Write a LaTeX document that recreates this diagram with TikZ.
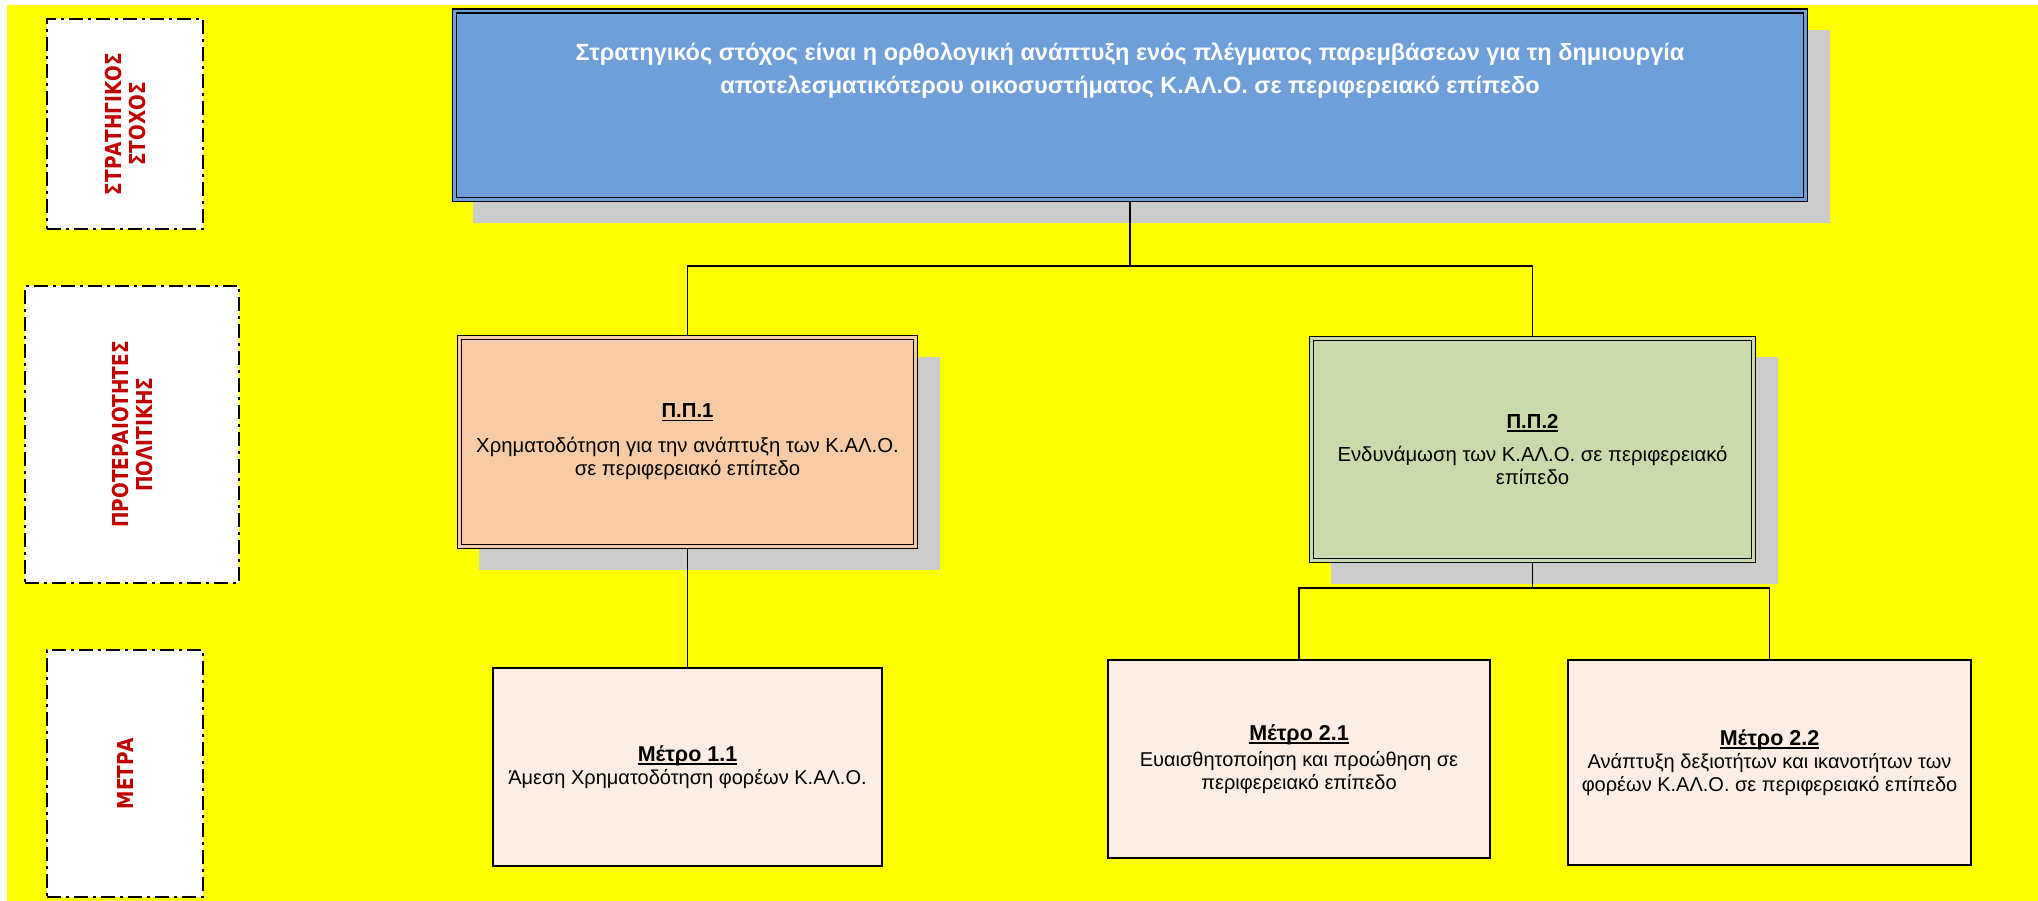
\documentclass[tikz,border=0pt]{standalone}
\usepackage{fontspec}
\setmainfont{Liberation Sans}
\newfontfamily\sidefont[FakeStretch=0.84]{DejaVu Sans}
\usetikzlibrary{calc}
\pgfdeclarelayer{bg}
\pgfdeclarelayer{mid}
\pgfsetlayers{bg,mid,main}
\definecolor{yellowbg}{HTML}{FFFF00}
\definecolor{bluefill}{HTML}{6F9FD9}
\definecolor{ppone}{HTML}{F8CBA7}
\definecolor{pptwo}{HTML}{CBDAAB}
\definecolor{metrofill}{HTML}{FCEEE4}
\definecolor{shadowgray}{HTML}{CCCCCC}
\definecolor{labelred}{HTML}{C00000}
\newcommand\ulx[1]{\setbox0=\hbox{#1}\rlap{\rule[-3.5pt]{\wd0}{1.6pt}}\box0}
\newcommand\mtitle[1]{{\fontsize{21.5}{23}\selectfont\ulx{\textbf{#1}}}}
\begin{document}
\begin{tikzpicture}[x=1pt,y=-1pt,
  sidebox/.style={draw=black, fill=white, line width=2pt, dash pattern=on 14pt off 5pt on 3pt off 5pt, inner sep=0pt},
  sidelabel/.style={rotate=90, align=center, text=labelred, inner sep=0pt, font=\sidefont\bfseries\fontsize{22}{24}\selectfont},
  dblbox/.style={draw=black, line width=1.5pt, double distance=2.5pt, inner sep=0pt, outer sep=0pt, align=center},
  mbox/.style={draw=black, line width=2pt, fill=metrofill, inner sep=0pt, outer sep=0pt, align=center, font=\fontsize{20}{23}\selectfont},
  goaltext/.style={anchor=base, text=white, inner sep=0pt, font=\bfseries\fontsize{23.5}{33}\selectfont},
  conn/.style={draw=black, line width=1.8pt},
  shadowbox/.style={fill=shadowgray}]
\useasboundingbox (0,0) rectangle (2038,901);

% side boxes
\node[sidebox, minimum width=156pt, minimum height=210pt] (s1) at (125,124) {};
\node[sidelabel] (s1t) at (s1.center) {ΣΤΡΑΤΗΓΙΚΟΣ\\ΣΤΟΧΟΣ};
\node[sidebox, minimum width=214pt, minimum height=297pt] (s2) at (132,434.5) {};
\node[sidelabel] (s2t) at (s2.center) {ΠΡΟΤΕΡΑΙΟΤΗΤΕΣ\\ΠΟΛΙΤΙΚΗΣ};
\node[sidebox, minimum width=156pt, minimum height=247pt] (s3) at (125,773.5) {};
\node[sidelabel] (s3t) at (s3.center) {ΜΕΤΡΑ};

% goal box
\node[dblbox, fill=bluefill, double=bluefill, minimum width=1351pt, minimum height=188.5pt] (goal) at (1129.75,105.25) {};
\node[goaltext] (goal1) at (1130,61) {Στρατηγικός στόχος είναι η ορθολογική ανάπτυξη ενός πλέγματος παρεμβάσεων για τη δημιουργία};
\node[goaltext] (goal2) at (1130,94) {αποτελεσματικότερου οικοσυστήματος Κ.ΑΛ.Ο. σε περιφερειακό επίπεδο};

% priorities
\node[dblbox, fill=ppone, double=ppone, minimum width=456pt, minimum height=208.5pt, font=\fontsize{20.3}{23}\selectfont] (pp1) at (687.5,442)
  {\ulx{\textbf{Π.Π.1}}\\[12pt]Χρηματοδότηση για την ανάπτυξη των Κ.ΑΛ.Ο.\\σε περιφερειακό επίπεδο};
\node[dblbox, fill=pptwo, double=pptwo, minimum width=442pt, minimum height=222pt, font=\fontsize{20.3}{23}\selectfont] (pp2) at (1532.5,449.5)
  {\ulx{\textbf{Π.Π.2}}\\[10pt]Ενδυνάμωση των Κ.ΑΛ.Ο. σε περιφερειακό\\επίπεδο};

% measures
\node[mbox, minimum width=389pt, minimum height=198pt] (m11) at (687.5,767)
  {\mtitle{Μέτρο 1.1}\\Άμεση Χρηματοδότηση φορέων Κ.ΑΛ.Ο.};
\node[mbox, minimum width=382pt, minimum height=198pt] (m21) at (1299,759)
  {\mtitle{Μέτρο 2.1}\\[3pt]Ευαισθητοποίηση και προώθηση σε\\περιφερειακό επίπεδο};
\node[mbox, minimum width=403pt, minimum height=205pt] (m22) at (1769.5,762.5)
  {\mtitle{Μέτρο 2.2}\\Ανάπτυξη δεξιοτήτων και ικανοτήτων των\\φορέων Κ.ΑΛ.Ο. σε περιφερειακό επίπεδο};

\coordinate (busA) at (1129.75,266);
\coordinate (busB) at (1532.5,588);

\begin{pgfonlayer}{mid}
\draw[conn] (goal.south) -- (busA);
\draw[conn] (pp1.north) |- (busA) -| (pp2.north);
\draw[conn] (pp1.south) -- (m11.north);
\draw[conn] (pp2.south) -- (busB);
\draw[conn] (m21.north) |- (busB) -| (m22.north);
\end{pgfonlayer}

\begin{pgfonlayer}{bg}
\fill[yellowbg] (7,5) rectangle (2038,901);
\fill[shadowbox] ($(goal.north west)+(19,19)$) rectangle ($(goal.south east)+(24.5,23.5)$);
\fill[shadowbox] ($(pp1.north west)+(19,19)$) rectangle ($(pp1.south east)+(24.5,23.5)$);
\fill[shadowbox] ($(pp2.north west)+(19,19)$) rectangle ($(pp2.south east)+(24.5,23.5)$);
\end{pgfonlayer}
\end{tikzpicture}
\end{document}
